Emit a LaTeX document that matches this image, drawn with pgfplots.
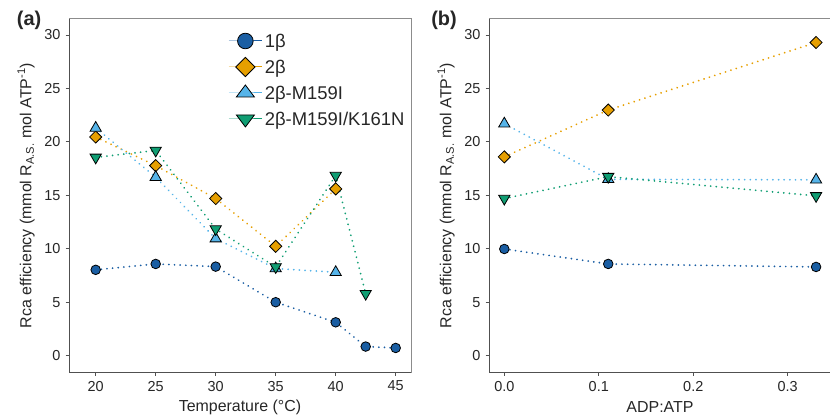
\documentclass[border=0pt]{standalone}
\usepackage{pgfplots}
\pgfplotsset{compat=1.18}
\usepackage{fontspec}
\setmainfont{Liberation Sans}
\definecolor{cA}{HTML}{1A5EA3}
\definecolor{cB}{HTML}{E69F00}
\definecolor{cC}{HTML}{56B4E9}
\definecolor{cD}{HTML}{109E73}
\definecolor{frameD}{HTML}{505050}
\definecolor{frameL}{HTML}{8C8C8C}
\pgfplotsset{
  panel/.style={
    scale only axis, width=342bp, height=353bp,
    ymin=-1.53, ymax=31.5, ytick={0,5,...,30},
    clip=false,
    axis line style={frameL, line width=1bp},
    tick align=outside, xtick pos=left, ytick pos=left,
    major tick length=3.5bp,
    tick style={frameD, line width=0.8bp},
    /pgf/number format/assume math mode=true,
    ticklabel style={font=\fontsize{14.5}{16}\selectfont, text=black!85},
    xticklabel style={yshift=-2bp},
    yticklabel style={xshift=-1.5bp},
    label style={font=\fontsize{16}{18}\selectfont, text=black!85},
    ylabel style={at={(axis description cs:-0.1255,0.5)}, anchor=center},
    xlabel style={at={(axis description cs:0.5,-0.1)}, anchor=center},
    ylabel={Rca efficiency (mmol R\textsubscript{A.S.} mol ATP\textsuperscript{-1})},
  },
  dotline/.style={line width=1.9bp, dash pattern=on 0.05bp off 5.6bp, line cap=round},
  sA/.style={cA, dotline, mark=*, mark size=4.8bp, mark options={solid, fill=cA, draw=black, line width=0.8bp}},
  sB/.style={cB, dotline, mark=square*, mark size=4.3bp, mark options={solid, rotate=45, fill=cB, draw=black, line width=0.8bp}},
  sC/.style={cC, dotline, mark=triangle*, mark size=6.5bp, mark options={solid, fill=cC, draw=black, line width=0.8bp}},
  sD/.style={cD, dotline, mark=triangle*, mark size=6.5bp, mark options={solid, rotate=180, fill=cD, draw=black, line width=0.8bp}},
}
\begin{document}
\begin{tikzpicture}
\useasboundingbox (0,0) rectangle (830bp,417bp);
% ---------------- panel (a)
\begin{axis}[panel, at={(69bp,45bp)}, anchor=south west,
  xmin=17.775, xmax=46.275, xtick={20,25,...,45},
  xlabel={Temperature (°C)},
  legend style={at={(axis description cs:0.4669,0.968)}, anchor=north west,
    draw=none, fill=none, inner sep=0pt, row sep=3bp, column sep=3bp,
    nodes={inner sep=0pt, text height=15bp, text depth=6bp, anchor=base west},
    font=\fontsize{18.5}{20}\selectfont, text=black!85},
  legend cell align=left,
  legend image code/.code={
    \path[draw=none, fill=none, use as bounding box] (0bp,-5bp) rectangle (33bp,17bp);
    \draw[#1, solid, line width=1bp, mark repeat=2, mark phase=2] plot coordinates {(0bp,6.5bp) (16.5bp,6.5bp) (33bp,6.5bp)};
  },
]
\addplot[sA, forget plot] coordinates {(20,8.03) (25,8.58) (30,8.33) (35,5.0) (40,3.12) (42.5,0.85) (45,0.72)};
\addplot[sB, forget plot] coordinates {(20,20.46) (25,17.78) (30,14.7) (35,10.23) (40,15.6)};
\addplot[sC, forget plot] coordinates {(20,21.3) (25,16.7) (30,10.95) (35,8.15) (40,7.8)};
\addplot[sD, forget plot] coordinates {(20,18.55) (25,19.2) (30,11.85) (35,8.3) (40,16.85) (42.5,5.8)};
\addlegendimage{cA, mark=*, mark size=7.8bp, mark options={fill=cA, draw=black, line width=0.8bp}}
\addlegendentry{1β}
\addlegendimage{cB, mark=square*, mark size=6.8bp, mark options={rotate=45, fill=cB, draw=black, line width=0.8bp}}
\addlegendentry{2β}
\addlegendimage{cC, mark=triangle*, mark size=8bp, mark options={xscale=1.3, fill=cC, draw=black, line width=0.8bp}}
\addlegendentry{2β-M159I}
\addlegendimage{cD, mark=triangle*, mark size=8bp, mark options={rotate=180, xscale=1.3, fill=cD, draw=black, line width=0.8bp}}
\addlegendentry{2β-M159I/K161N}
\draw[frameD, line width=1bp] (rel axis cs:0,1) -- (rel axis cs:0,0) -- (rel axis cs:1,0);
\node[font=\bfseries\fontsize{20}{22}\selectfont, text=black!85] at (axis description cs:-0.1167,0.997) {(a)};
\end{axis}
% ---------------- panel (b)
\begin{axis}[panel, at={(489bp,45bp)}, anchor=south west,
  xmin=-0.0162, xmax=0.3458, xtick={0,0.1,0.2,0.3},
  xticklabel style={/pgf/number format/.cd, fixed, fixed zerofill, precision=1},
  xlabel={ADP:ATP},
]
\addplot[sA] coordinates {(0,9.98) (0.11,8.58) (0.33,8.3)};
\addplot[sB] coordinates {(0,18.6) (0.11,22.98) (0.33,29.3)};
\addplot[sC] coordinates {(0,21.7) (0.11,16.5) (0.33,16.45)};
\addplot[sD] coordinates {(0,14.7) (0.11,16.75) (0.33,14.95)};
\draw[frameD, line width=1bp] (rel axis cs:0,1) -- (rel axis cs:0,0) -- (rel axis cs:1,0);
\node[font=\bfseries\fontsize{20}{22}\selectfont, text=black!85] at (axis description cs:-0.1316,0.997) {(b)};
\end{axis}
\end{tikzpicture}
\end{document}
